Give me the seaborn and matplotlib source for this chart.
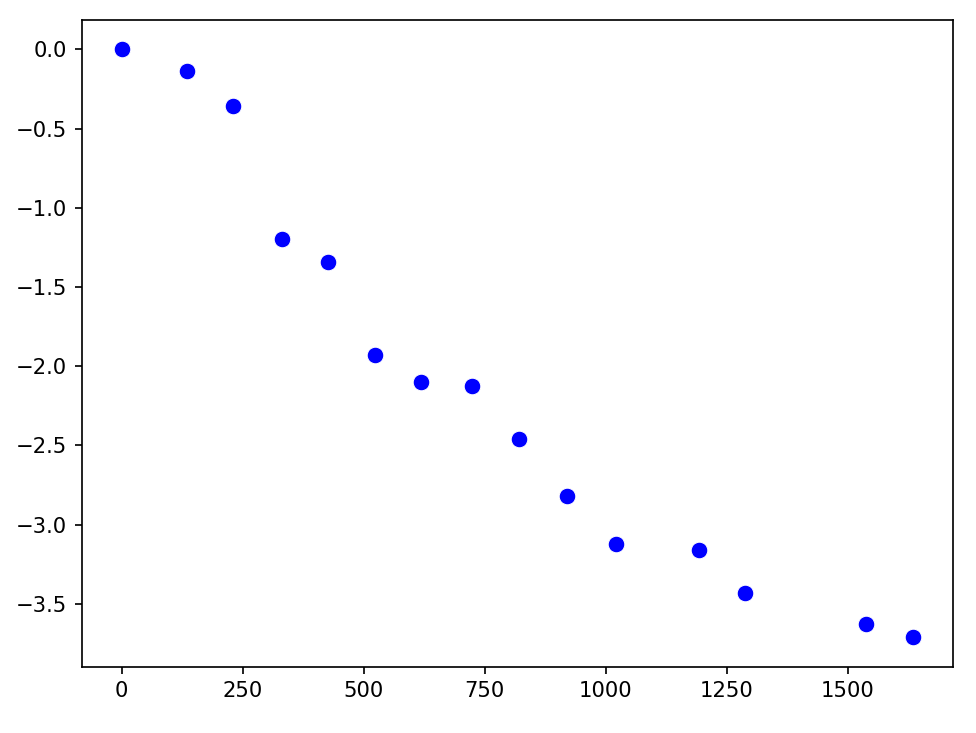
import matplotlib
matplotlib.use("Agg")
import matplotlib.pyplot as plt
import seaborn as sns
import pandas as pd

x_values = [0, 136, 231, 331, 426, 523, 618, 723, 822, 921, 1021, 1192, 1289, 1539, 1636]
y_values = [0.0, -0.136, -0.356, -1.195, -1.34, -1.93, -2.10, -2.125, -2.46, -2.82,
            -3.12, -3.16, -3.43, -3.63, -3.71]

df = pd.DataFrame({"x": x_values, "y": y_values})

dpi = 152.5
fig = plt.figure(figsize=(976 / dpi, 733 / dpi), dpi=dpi)
ax = fig.add_axes([82 / 976, 1 - 666.5 / 733, (953 - 82) / 976, (666.5 - 20) / 733])
sns.scatterplot(data=df, x="x", y="y", color="blue", s=62, edgecolor="white",
                linewidth=0.5, ax=ax)
ax.set_xlabel("")
ax.set_ylabel("")
ax.set_xticks([0, 250, 500, 750, 1000, 1250, 1500])
ax.set_yticks([0.0, -0.5, -1.0, -1.5, -2.0, -2.5, -3.0, -3.5])
fig.savefig("out.png", dpi=dpi)
